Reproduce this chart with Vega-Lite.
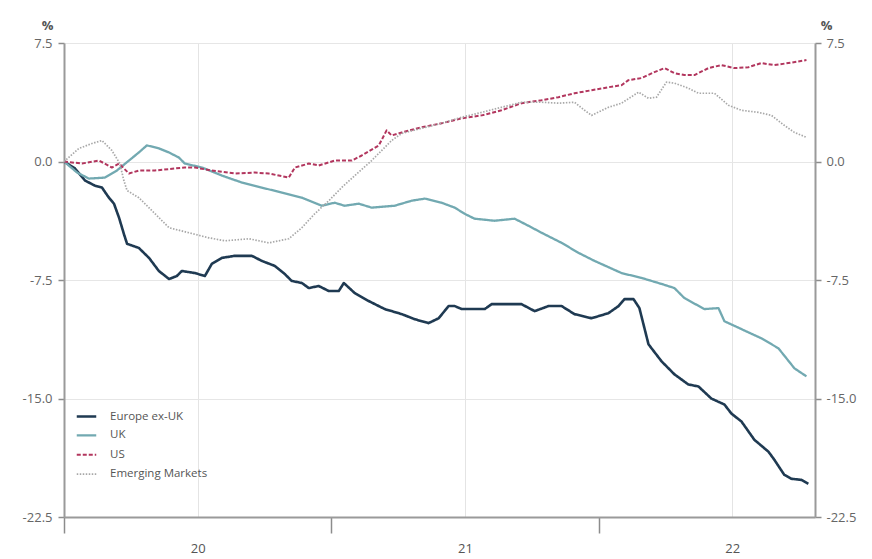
{
  "$schema": "https://vega.github.io/schema/vega-lite/v6.json",
  "width": 751,
  "height": 474,
  "autosize": {"type": "none"},
  "padding": {"left": 64, "top": 43, "right": 57, "bottom": 42},
  "background": "white",
  "config": {
    "view": {"stroke": null},
    "font": "Open Sans",
    "axis": {"labelFont": "Open Sans", "titleFont": "Open Sans"},
    "legend": {"labelFont": "Open Sans"}
  },
  "datasets": {
    "d": [
      {"series": "Europe ex-UK", "year": 2020.0, "value": 0},
      {"series": "Europe ex-UK", "year": 2020.041, "value": -0.44},
      {"series": "Europe ex-UK", "year": 2020.079, "value": -1.21},
      {"series": "Europe ex-UK", "year": 2020.116, "value": -1.53},
      {"series": "Europe ex-UK", "year": 2020.142, "value": -1.65},
      {"series": "Europe ex-UK", "year": 2020.168, "value": -2.29},
      {"series": "Europe ex-UK", "year": 2020.187, "value": -2.67},
      {"series": "Europe ex-UK", "year": 2020.206, "value": -3.56},
      {"series": "Europe ex-UK", "year": 2020.224, "value": -4.58},
      {"series": "Europe ex-UK", "year": 2020.236, "value": -5.21},
      {"series": "Europe ex-UK", "year": 2020.28, "value": -5.47},
      {"series": "Europe ex-UK", "year": 2020.318, "value": -6.10},
      {"series": "Europe ex-UK", "year": 2020.355, "value": -6.93},
      {"series": "Europe ex-UK", "year": 2020.393, "value": -7.44},
      {"series": "Europe ex-UK", "year": 2020.422, "value": -7.25},
      {"series": "Europe ex-UK", "year": 2020.441, "value": -6.93},
      {"series": "Europe ex-UK", "year": 2020.49, "value": -7.06},
      {"series": "Europe ex-UK", "year": 2020.527, "value": -7.25},
      {"series": "Europe ex-UK", "year": 2020.553, "value": -6.48},
      {"series": "Europe ex-UK", "year": 2020.591, "value": -6.10},
      {"series": "Europe ex-UK", "year": 2020.639, "value": -5.97},
      {"series": "Europe ex-UK", "year": 2020.703, "value": -5.97},
      {"series": "Europe ex-UK", "year": 2020.74, "value": -6.29},
      {"series": "Europe ex-UK", "year": 2020.789, "value": -6.61},
      {"series": "Europe ex-UK", "year": 2020.826, "value": -7.12},
      {"series": "Europe ex-UK", "year": 2020.852, "value": -7.56},
      {"series": "Europe ex-UK", "year": 2020.89, "value": -7.69},
      {"series": "Europe ex-UK", "year": 2020.916, "value": -8.01},
      {"series": "Europe ex-UK", "year": 2020.953, "value": -7.88},
      {"series": "Europe ex-UK", "year": 2020.991, "value": -8.20},
      {"series": "Europe ex-UK", "year": 2021.028, "value": -8.20},
      {"series": "Europe ex-UK", "year": 2021.047, "value": -7.69},
      {"series": "Europe ex-UK", "year": 2021.088, "value": -8.33},
      {"series": "Europe ex-UK", "year": 2021.14, "value": -8.83},
      {"series": "Europe ex-UK", "year": 2021.2, "value": -9.34},
      {"series": "Europe ex-UK", "year": 2021.264, "value": -9.66},
      {"series": "Europe ex-UK", "year": 2021.312, "value": -9.98},
      {"series": "Europe ex-UK", "year": 2021.364, "value": -10.23},
      {"series": "Europe ex-UK", "year": 2021.402, "value": -9.92},
      {"series": "Europe ex-UK", "year": 2021.439, "value": -9.15},
      {"series": "Europe ex-UK", "year": 2021.462, "value": -9.15},
      {"series": "Europe ex-UK", "year": 2021.488, "value": -9.34},
      {"series": "Europe ex-UK", "year": 2021.574, "value": -9.34},
      {"series": "Europe ex-UK", "year": 2021.6, "value": -9.03},
      {"series": "Europe ex-UK", "year": 2021.664, "value": -9.03},
      {"series": "Europe ex-UK", "year": 2021.712, "value": -9.03},
      {"series": "Europe ex-UK", "year": 2021.761, "value": -9.47},
      {"series": "Europe ex-UK", "year": 2021.813, "value": -9.15},
      {"series": "Europe ex-UK", "year": 2021.862, "value": -9.15},
      {"series": "Europe ex-UK", "year": 2021.91, "value": -9.66},
      {"series": "Europe ex-UK", "year": 2021.974, "value": -9.92},
      {"series": "Europe ex-UK", "year": 2022.037, "value": -9.60},
      {"series": "Europe ex-UK", "year": 2022.075, "value": -9.15},
      {"series": "Europe ex-UK", "year": 2022.097, "value": -8.71},
      {"series": "Europe ex-UK", "year": 2022.131, "value": -8.71},
      {"series": "Europe ex-UK", "year": 2022.153, "value": -9.28},
      {"series": "Europe ex-UK", "year": 2022.187, "value": -11.57},
      {"series": "Europe ex-UK", "year": 2022.236, "value": -12.65},
      {"series": "Europe ex-UK", "year": 2022.284, "value": -13.47},
      {"series": "Europe ex-UK", "year": 2022.336, "value": -14.11},
      {"series": "Europe ex-UK", "year": 2022.374, "value": -14.24},
      {"series": "Europe ex-UK", "year": 2022.422, "value": -15.00},
      {"series": "Europe ex-UK", "year": 2022.471, "value": -15.38},
      {"series": "Europe ex-UK", "year": 2022.497, "value": -15.95},
      {"series": "Europe ex-UK", "year": 2022.535, "value": -16.46},
      {"series": "Europe ex-UK", "year": 2022.583, "value": -17.61},
      {"series": "Europe ex-UK", "year": 2022.636, "value": -18.37},
      {"series": "Europe ex-UK", "year": 2022.658, "value": -18.88},
      {"series": "Europe ex-UK", "year": 2022.695, "value": -19.83},
      {"series": "Europe ex-UK", "year": 2022.721, "value": -20.08},
      {"series": "Europe ex-UK", "year": 2022.759, "value": -20.15},
      {"series": "Europe ex-UK", "year": 2022.785, "value": -20.40},

      {"series": "UK", "year": 2020.0, "value": 0},
      {"series": "UK", "year": 2020.049, "value": -0.70},
      {"series": "UK", "year": 2020.093, "value": -1.08},
      {"series": "UK", "year": 2020.153, "value": -1.02},
      {"series": "UK", "year": 2020.198, "value": -0.57},
      {"series": "UK", "year": 2020.243, "value": 0.06},
      {"series": "UK", "year": 2020.28, "value": 0.57},
      {"series": "UK", "year": 2020.31, "value": 1.02},
      {"series": "UK", "year": 2020.355, "value": 0.83},
      {"series": "UK", "year": 2020.393, "value": 0.57},
      {"series": "UK", "year": 2020.43, "value": 0.25},
      {"series": "UK", "year": 2020.452, "value": -0.13},
      {"series": "UK", "year": 2020.516, "value": -0.38},
      {"series": "UK", "year": 2020.591, "value": -0.89},
      {"series": "UK", "year": 2020.665, "value": -1.33},
      {"series": "UK", "year": 2020.74, "value": -1.65},
      {"series": "UK", "year": 2020.815, "value": -1.97},
      {"series": "UK", "year": 2020.89, "value": -2.29},
      {"series": "UK", "year": 2020.964, "value": -2.80},
      {"series": "UK", "year": 2021.013, "value": -2.61},
      {"series": "UK", "year": 2021.05, "value": -2.80},
      {"series": "UK", "year": 2021.103, "value": -2.67},
      {"series": "UK", "year": 2021.151, "value": -2.92},
      {"series": "UK", "year": 2021.237, "value": -2.80},
      {"series": "UK", "year": 2021.301, "value": -2.48},
      {"series": "UK", "year": 2021.35, "value": -2.35},
      {"series": "UK", "year": 2021.413, "value": -2.61},
      {"series": "UK", "year": 2021.462, "value": -2.92},
      {"series": "UK", "year": 2021.499, "value": -3.31},
      {"series": "UK", "year": 2021.536, "value": -3.62},
      {"series": "UK", "year": 2021.611, "value": -3.75},
      {"series": "UK", "year": 2021.686, "value": -3.62},
      {"series": "UK", "year": 2021.738, "value": -4.07},
      {"series": "UK", "year": 2021.787, "value": -4.51},
      {"series": "UK", "year": 2021.862, "value": -5.15},
      {"series": "UK", "year": 2021.925, "value": -5.78},
      {"series": "UK", "year": 2021.985, "value": -6.29},
      {"series": "UK", "year": 2022.086, "value": -7.06},
      {"series": "UK", "year": 2022.161, "value": -7.37},
      {"series": "UK", "year": 2022.236, "value": -7.75},
      {"series": "UK", "year": 2022.284, "value": -8.01},
      {"series": "UK", "year": 2022.321, "value": -8.64},
      {"series": "UK", "year": 2022.396, "value": -9.34},
      {"series": "UK", "year": 2022.449, "value": -9.28},
      {"series": "UK", "year": 2022.471, "value": -10.11},
      {"series": "UK", "year": 2022.535, "value": -10.61},
      {"series": "UK", "year": 2022.609, "value": -11.19},
      {"series": "UK", "year": 2022.673, "value": -11.82},
      {"series": "UK", "year": 2022.733, "value": -13.09},
      {"series": "UK", "year": 2022.778, "value": -13.60},

      {"series": "US", "year": 2020.0, "value": 0},
      {"series": "US", "year": 2020.067, "value": -0.13},
      {"series": "US", "year": 2020.131, "value": 0.06},
      {"series": "US", "year": 2020.179, "value": -0.38},
      {"series": "US", "year": 2020.206, "value": -0.13},
      {"series": "US", "year": 2020.243, "value": -0.76},
      {"series": "US", "year": 2020.28, "value": -0.57},
      {"series": "US", "year": 2020.34, "value": -0.57},
      {"series": "US", "year": 2020.415, "value": -0.44},
      {"series": "US", "year": 2020.452, "value": -0.38},
      {"series": "US", "year": 2020.49, "value": -0.38},
      {"series": "US", "year": 2020.553, "value": -0.57},
      {"series": "US", "year": 2020.639, "value": -0.76},
      {"series": "US", "year": 2020.714, "value": -0.70},
      {"series": "US", "year": 2020.766, "value": -0.76},
      {"series": "US", "year": 2020.841, "value": -1.02},
      {"series": "US", "year": 2020.864, "value": -0.38},
      {"series": "US", "year": 2020.916, "value": -0.13},
      {"series": "US", "year": 2020.953, "value": -0.25},
      {"series": "US", "year": 2021.013, "value": 0.06},
      {"series": "US", "year": 2021.077, "value": 0.06},
      {"series": "US", "year": 2021.114, "value": 0.38},
      {"series": "US", "year": 2021.178, "value": 1.02},
      {"series": "US", "year": 2021.207, "value": 1.97},
      {"series": "US", "year": 2021.226, "value": 1.65},
      {"series": "US", "year": 2021.264, "value": 1.84},
      {"series": "US", "year": 2021.338, "value": 2.16},
      {"series": "US", "year": 2021.413, "value": 2.42},
      {"series": "US", "year": 2021.488, "value": 2.73},
      {"series": "US", "year": 2021.563, "value": 2.92},
      {"series": "US", "year": 2021.637, "value": 3.24},
      {"series": "US", "year": 2021.712, "value": 3.69},
      {"series": "US", "year": 2021.787, "value": 3.88},
      {"series": "US", "year": 2021.85, "value": 4.07},
      {"series": "US", "year": 2021.91, "value": 4.32},
      {"series": "US", "year": 2021.974, "value": 4.51},
      {"series": "US", "year": 2022.037, "value": 4.70},
      {"series": "US", "year": 2022.086, "value": 4.83},
      {"series": "US", "year": 2022.112, "value": 5.15},
      {"series": "US", "year": 2022.161, "value": 5.28},
      {"series": "US", "year": 2022.209, "value": 5.66},
      {"series": "US", "year": 2022.247, "value": 5.91},
      {"series": "US", "year": 2022.284, "value": 5.59},
      {"series": "US", "year": 2022.321, "value": 5.47},
      {"series": "US", "year": 2022.359, "value": 5.47},
      {"series": "US", "year": 2022.411, "value": 5.91},
      {"series": "US", "year": 2022.46, "value": 6.10},
      {"series": "US", "year": 2022.508, "value": 5.91},
      {"series": "US", "year": 2022.561, "value": 5.97},
      {"series": "US", "year": 2022.609, "value": 6.23},
      {"series": "US", "year": 2022.658, "value": 6.10},
      {"series": "US", "year": 2022.71, "value": 6.23},
      {"series": "US", "year": 2022.778, "value": 6.42},

      {"series": "Emerging Markets", "year": 2020.0, "value": 0},
      {"series": "Emerging Markets", "year": 2020.056, "value": 0.83},
      {"series": "Emerging Markets", "year": 2020.105, "value": 1.14},
      {"series": "Emerging Markets", "year": 2020.142, "value": 1.33},
      {"series": "Emerging Markets", "year": 2020.179, "value": 0.70},
      {"series": "Emerging Markets", "year": 2020.209, "value": -0.13},
      {"series": "Emerging Markets", "year": 2020.224, "value": -1.21},
      {"series": "Emerging Markets", "year": 2020.236, "value": -1.84},
      {"series": "Emerging Markets", "year": 2020.28, "value": -2.29},
      {"series": "Emerging Markets", "year": 2020.329, "value": -3.11},
      {"series": "Emerging Markets", "year": 2020.393, "value": -4.19},
      {"series": "Emerging Markets", "year": 2020.467, "value": -4.51},
      {"series": "Emerging Markets", "year": 2020.542, "value": -4.83},
      {"series": "Emerging Markets", "year": 2020.602, "value": -5.02},
      {"series": "Emerging Markets", "year": 2020.692, "value": -4.89},
      {"series": "Emerging Markets", "year": 2020.766, "value": -5.15},
      {"series": "Emerging Markets", "year": 2020.841, "value": -4.89},
      {"series": "Emerging Markets", "year": 2020.89, "value": -4.19},
      {"series": "Emerging Markets", "year": 2020.938, "value": -3.31},
      {"series": "Emerging Markets", "year": 2020.991, "value": -2.48},
      {"series": "Emerging Markets", "year": 2021.039, "value": -1.65},
      {"series": "Emerging Markets", "year": 2021.088, "value": -0.89},
      {"series": "Emerging Markets", "year": 2021.151, "value": 0.06},
      {"series": "Emerging Markets", "year": 2021.189, "value": 0.70},
      {"series": "Emerging Markets", "year": 2021.226, "value": 1.33},
      {"series": "Emerging Markets", "year": 2021.264, "value": 1.78},
      {"series": "Emerging Markets", "year": 2021.338, "value": 2.10},
      {"series": "Emerging Markets", "year": 2021.413, "value": 2.42},
      {"series": "Emerging Markets", "year": 2021.488, "value": 2.80},
      {"series": "Emerging Markets", "year": 2021.563, "value": 3.11},
      {"series": "Emerging Markets", "year": 2021.637, "value": 3.43},
      {"series": "Emerging Markets", "year": 2021.712, "value": 3.75},
      {"series": "Emerging Markets", "year": 2021.787, "value": 3.75},
      {"series": "Emerging Markets", "year": 2021.85, "value": 3.69},
      {"series": "Emerging Markets", "year": 2021.91, "value": 3.75},
      {"series": "Emerging Markets", "year": 2021.948, "value": 3.24},
      {"series": "Emerging Markets", "year": 2021.974, "value": 2.92},
      {"series": "Emerging Markets", "year": 2022.037, "value": 3.43},
      {"series": "Emerging Markets", "year": 2022.086, "value": 3.69},
      {"series": "Emerging Markets", "year": 2022.15, "value": 4.39},
      {"series": "Emerging Markets", "year": 2022.187, "value": 4.00},
      {"series": "Emerging Markets", "year": 2022.217, "value": 4.07},
      {"series": "Emerging Markets", "year": 2022.254, "value": 5.02},
      {"series": "Emerging Markets", "year": 2022.284, "value": 4.96},
      {"series": "Emerging Markets", "year": 2022.336, "value": 4.64},
      {"series": "Emerging Markets", "year": 2022.374, "value": 4.32},
      {"series": "Emerging Markets", "year": 2022.434, "value": 4.32},
      {"series": "Emerging Markets", "year": 2022.486, "value": 3.56},
      {"series": "Emerging Markets", "year": 2022.535, "value": 3.24},
      {"series": "Emerging Markets", "year": 2022.598, "value": 3.11},
      {"series": "Emerging Markets", "year": 2022.647, "value": 2.92},
      {"series": "Emerging Markets", "year": 2022.695, "value": 2.29},
      {"series": "Emerging Markets", "year": 2022.733, "value": 1.84},
      {"series": "Emerging Markets", "year": 2022.778, "value": 1.53}
    ]
  },
  "resolve": {"scale": {"y": "independent"}, "axis": {"y": "independent"}},
  "layer": [
    {
      "data": {"name": "d"},
      "mark": {"type": "line", "strokeJoin": "round", "clip": true},
      "encoding": {
        "x": {
          "field": "year",
          "type": "quantitative",
          "scale": {"domain": [2020, 2022.81], "nice": false, "zero": false},
          "axis": {
            "values": [2020, 2020.5, 2021, 2021.5, 2022, 2022.5],
            "title": null,
            "labelExpr": "datum.value % 1 == 0 ? '' : format(floor(datum.value) - 2000, 'd')",
            "labelFlush": false,
            "labelOverlap": false,
            "labelFontSize": 13,
            "labelColor": "#555555",
            "labelPadding": 9,
            "tickSize": 16,
            "tickWidth": 1.5,
            "tickColor": "#8c8c8c",
            "tickOpacity": {"condition": {"test": "datum.value % 1 == 0", "value": 1}, "value": 0},
            "grid": true,
            "gridColor": "#e4e4e4",
            "gridWidth": 1,
            "gridOpacity": {"condition": {"test": "datum.value % 1 != 0", "value": 1}, "value": 0},
            "domainColor": "#9a9a9a",
            "domainWidth": 2
          }
        },
        "y": {
          "field": "value",
          "type": "quantitative",
          "scale": {"domain": [-22.5, 7.5], "nice": false, "zero": false},
          "axis": {
            "orient": "left",
            "values": [-22.5, -15, -7.5, 0, 7.5],
            "labelExpr": "replace(format(datum.value, '.1f'), '\u2212', '-')",
            "title": "%",
            "titleAngle": 0,
            "titleAlign": "center",
            "titleBaseline": "middle",
            "titleX": -17,
            "titleY": -18,
            "titleFontSize": 13,
            "titleFontWeight": "bold",
            "titleColor": "#555555",
            "labelFontSize": 13,
            "labelColor": "#666666",
            "labelPadding": 6,
            "tickSize": 6,
            "tickColor": "#8c8c8c",
            "tickWidth": 1.5,
            "domainColor": "#9a9a9a",
            "domainWidth": 2,
            "grid": true,
            "gridColor": "#e6e6e6",
            "gridWidth": 1
          }
        },
        "color": {
          "field": "series",
          "type": "nominal",
          "scale": {
            "domain": ["Europe ex-UK", "UK", "US", "Emerging Markets"],
            "range": ["#1f3a52", "#72a9b1", "#b2365e", "#a8a8a8"]
          },
          "legend": {
            "title": null,
            "orient": "none",
            "legendX": 11,
            "legendY": 362,
            "padding": 0,
            "symbolType": "stroke",
            "symbolSize": 380,
            "rowPadding": 2.4,
            "labelOffset": 12,
            "labelFontSize": 11.5,
            "labelColor": "#555555"
          }
        },
        "strokeDash": {
          "field": "series",
          "type": "nominal",
          "scale": {
            "domain": ["Europe ex-UK", "UK", "US", "Emerging Markets"],
            "range": [[1, 0], [1, 0], [4, 2], [1.5, 1.5]]
          },
          "legend": null
        },
        "strokeWidth": {
          "field": "series",
          "type": "nominal",
          "scale": {
            "domain": ["Europe ex-UK", "UK", "US", "Emerging Markets"],
            "range": [2.6, 1.7, 2, 1.6]
          },
          "legend": null
        },
        "order": {"field": "year", "type": "quantitative"}
      }
    },
    {
      "mark": {"type": "rule", "color": "#666666", "strokeWidth": 2},
      "encoding": {
        "y": {
          "datum": 0,
          "type": "quantitative",
          "scale": {"domain": [-22.5, 7.5], "nice": false, "zero": false},
          "axis": {
            "orient": "right",
            "values": [-22.5, -15, -7.5, 0, 7.5],
            "labelExpr": "replace(format(datum.value, '.1f'), '\u2212', '-')",
            "title": "%",
            "titleAngle": 0,
            "titleAlign": "center",
            "titleBaseline": "middle",
            "titleX": 11,
            "titleY": -18,
            "titleFontSize": 13,
            "titleFontWeight": "bold",
            "titleColor": "#555555",
            "labelFontSize": 13,
            "labelColor": "#666666",
            "labelPadding": 5,
            "tickSize": 6,
            "tickColor": "#8c8c8c",
            "tickWidth": 1.5,
            "domainColor": "#9a9a9a",
            "domainWidth": 2,
            "grid": false
          }
        }
      }
    }
  ]
}
